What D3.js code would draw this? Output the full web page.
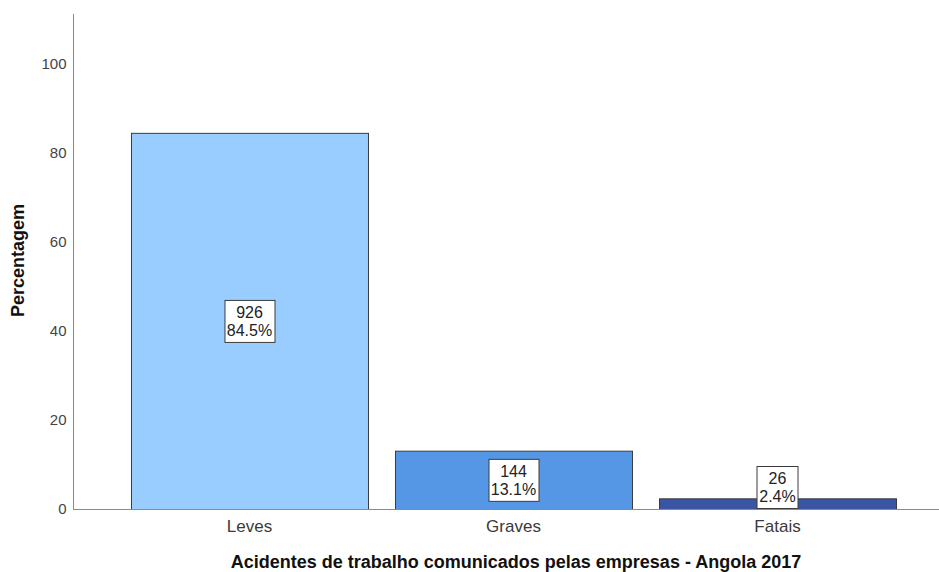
<!DOCTYPE html>
<html lang="pt">
<head>
<meta charset="utf-8">
<title>Acidentes de trabalho - Angola 2017</title>
<script src="https://cdn.jsdelivr.net/npm/d3@7"></script>
<style>
  body { margin: 0; background: #fff; }
  text { font-family: "Liberation Sans", Arial, sans-serif; }
</style>
</head>
<body>
<script>
// data
const categories = ["Leves", "Graves", "Fatais"];
const counts = [926, 144, 26];
const percents = [84.5, 13.1, 2.4];
const percentLabels = ["84.5%", "13.1%", "2.4%"];
const yTicks = [0, 20, 40, 60, 80, 100];
const barColors = ["#99ccff", "#5597e4", "#3b55a5"];

let w = 939, h = 572;

let svg = d3.select("body").append("svg")
  .attr("width", w)
  .attr("height", h);

let yScale = d3.scaleLinear()
  .domain([0, 111.2])
  .range([509, 14]);

let xScale = d3.scaleBand()
  .domain(categories)
  .range([117.5, 909.5])
  .paddingInner(0.1023)
  .paddingOuter(0.0511);

// bars
svg.selectAll("rect.bar")
  .data(categories)
  .enter()
  .append("rect")
  .attr("class", "bar")
  .attr("x", d => xScale(d) + 0.5)
  .attr("y", (d, i) => yScale(percents[i]) + 0.5)
  .attr("width", xScale.bandwidth())
  .attr("height", (d, i) => yScale(0) - yScale(percents[i]))
  .attr("fill", (d, i) => barColors[i])
  .attr("stroke", "#3c3c3c")
  .attr("stroke-width", 1);

// y axis
let yAxis = svg.append("g")
  .attr("transform", "translate(73.5,0)")
  .call(d3.axisLeft(yScale).tickValues(yTicks).tickSize(0).tickPadding(7));
yAxis.select(".domain").attr("stroke", "#8a8a8a");
yAxis.selectAll("text")
  .attr("font-size", 15)
  .attr("fill", "#444")
  .style("font-family", "'Liberation Sans', Arial, sans-serif");
// extend axis line to top
yAxis.select(".domain").attr("d", "M0," + yScale.range()[1] + "V" + (yScale(0) + 0.5));

// x axis line
svg.append("line")
  .attr("x1", 73).attr("x2", w)
  .attr("y1", yScale(0) + 0.5).attr("y2", yScale(0) + 0.5)
  .attr("stroke", "#8a8a8a");

svg.selectAll("text.cat")
  .data(categories)
  .enter()
  .append("text")
  .attr("class", "cat")
  .attr("x", d => xScale(d) + xScale.bandwidth() / 2)
  .attr("y", 532)
  .attr("text-anchor", "middle")
  .attr("font-size", 17)
  .attr("fill", "#3a3a3a")
  .text(d => d);

// value boxes
let boxH = 42;
let labels = svg.selectAll("g.lab")
  .data(categories)
  .enter()
  .append("g")
  .attr("class", "lab")
  .attr("transform", (d, i) => {
    let mid = (yScale(percents[i]) + yScale(0)) / 2;
    let cy = Math.min(mid, yScale(0) - boxH / 2 - 1);
    return "translate(" + (xScale(d) + xScale.bandwidth() / 2) + "," + cy + ")";
  });

labels.each(function(d, i) {
  let g = d3.select(this);
  let t1 = g.append("text").attr("text-anchor", "middle").attr("y", -3)
    .attr("font-size", 16).attr("fill", "#222").text(counts[i]);
  let t2 = g.append("text").attr("text-anchor", "middle").attr("y", 15)
    .attr("font-size", 16).attr("fill", "#222").text(percentLabels[i]);
  let bw = Math.max(t1.node().getComputedTextLength(), t2.node().getComputedTextLength()) + 5;
  g.insert("rect", "text")
    .attr("x", Math.round(-bw / 2) + 0.5)
    .attr("y", -boxH / 2 + 0.5)
    .attr("width", Math.round(bw))
    .attr("height", boxH)
    .attr("fill", "#fff")
    .attr("stroke", "#3c3c3c");
});

// axis titles
svg.append("text")
  .attr("transform", "translate(24,260.5) rotate(-90)")
  .attr("text-anchor", "middle")
  .attr("font-size", 18)
  .attr("font-weight", "bold")
  .attr("fill", "#111")
  .text("Percentagem");

svg.append("text")
  .attr("x", 516)
  .attr("y", 568)
  .attr("text-anchor", "middle")
  .attr("font-size", 18)
  .attr("font-weight", "bold")
  .attr("fill", "#111")
  .text("Acidentes de trabalho comunicados pelas empresas - Angola 2017");
</script>
</body>
</html>
